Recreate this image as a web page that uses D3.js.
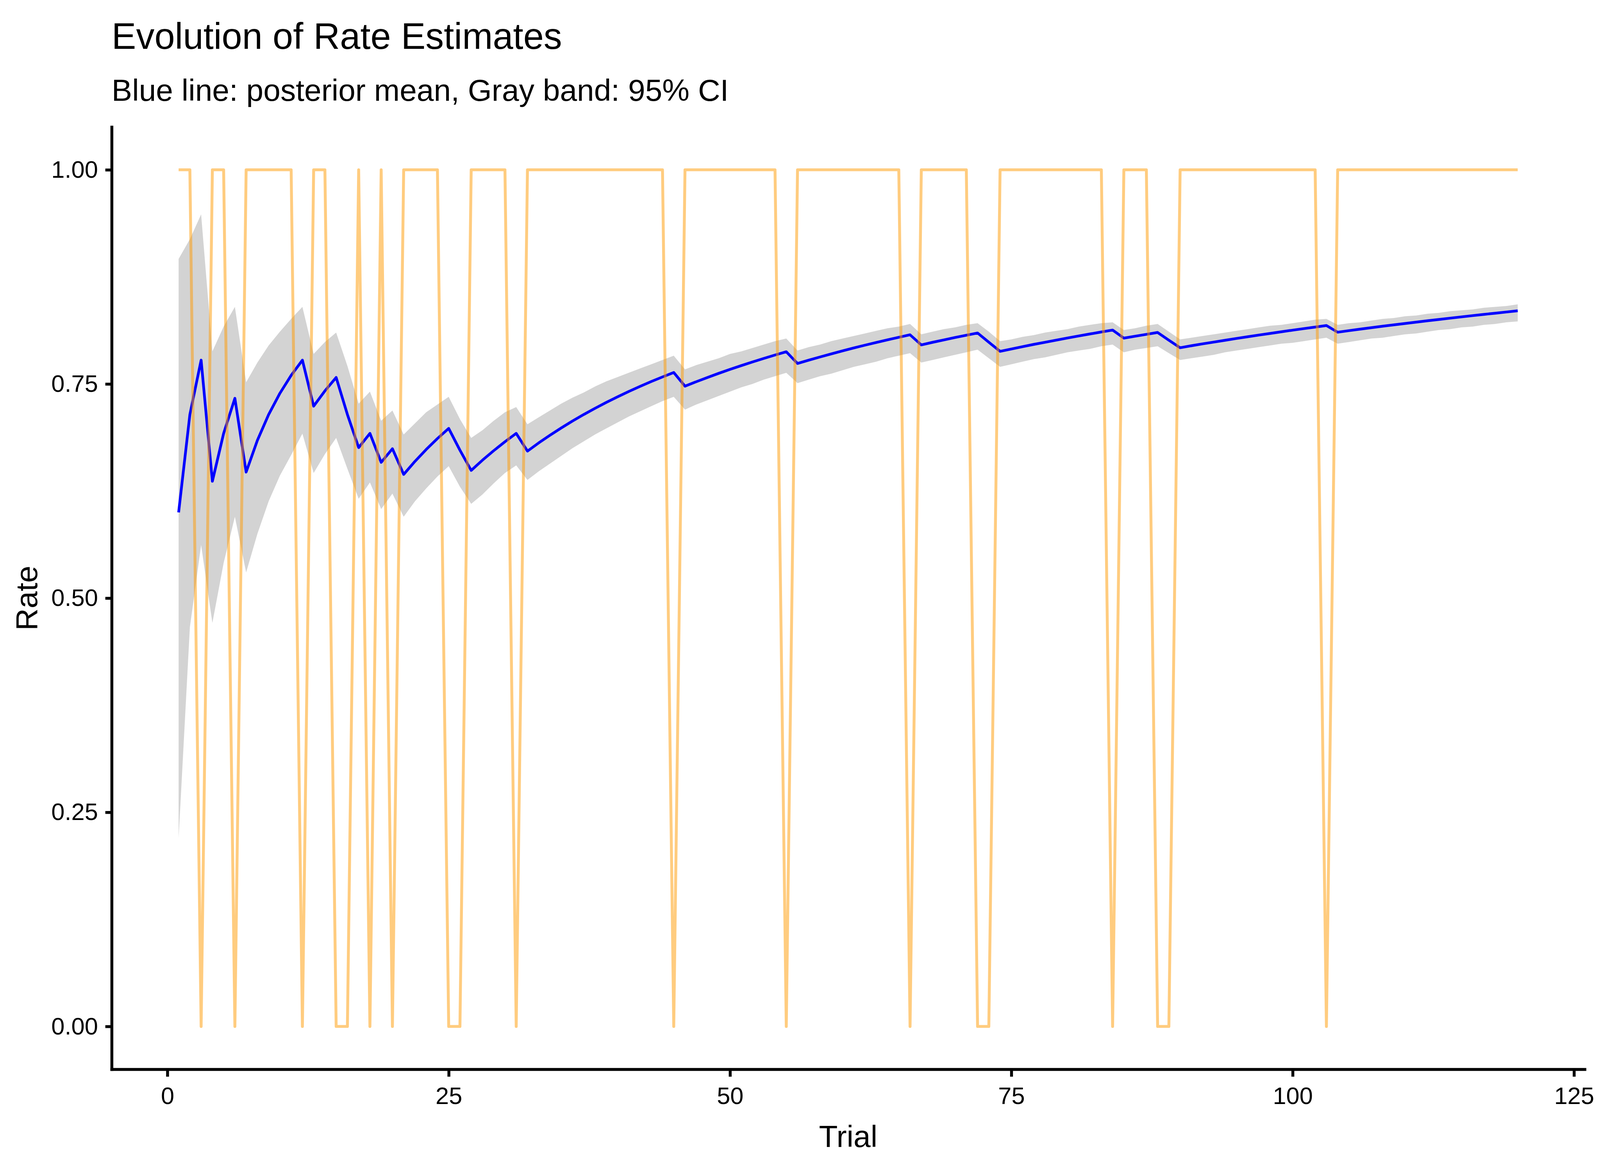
<!DOCTYPE html>
<html>
<head>
<meta charset="utf-8">
<script src="https://cdn.jsdelivr.net/npm/d3@7/dist/d3.min.js"></script>
<style>
  html, body { margin: 0; padding: 0; background: #ffffff; overflow: hidden; }
  svg { display: block; }
  text { font-family: "Liberation Sans", Arial, Helvetica, sans-serif; fill: #000; }
</style>
</head>
<body>
<script>
// ---------------- data ----------------
const titleText = "Evolution of Rate Estimates";
const subtitleText = "Blue line: posterior mean, Gray band: 95% CI";
const xLabel = "Trial";
const yLabel = "Rate";
const xTicks = [0, 25, 50, 75, 100, 125];
const yTicks = [0, 0.25, 0.5, 0.75, 1];

const trials = d3.range(1, 121);

const outcome = [
1,1,0,1,1,0,1,1,1,1,
1,0,1,1,0,0,1,0,1,0,
1,1,1,1,0,0,1,1,1,1,
0,1,1,1,1,1,1,1,1,1,
1,1,1,1,0,1,1,1,1,1,
1,1,1,1,0,1,1,1,1,1,
1,1,1,1,1,0,1,1,1,1,
1,0,0,1,1,1,1,1,1,1,
1,1,1,0,1,1,1,0,0,1,
1,1,1,1,1,1,1,1,1,1,
1,1,0,1,1,1,1,1,1,1,
1,1,1,1,1,1,1,1,1,1];

const postMean = [
0.6000,0.7143,0.7778,0.6364,0.6923,0.7333,0.6471,0.6842,0.7143,0.7391,
0.7600,0.7778,0.7241,0.7419,0.7576,0.7143,0.6757,0.6923,0.6585,0.6744,
0.6444,0.6596,0.6735,0.6863,0.6981,0.6727,0.6491,0.6610,0.6721,0.6825,
0.6923,0.6716,0.6812,0.6901,0.6986,0.7067,0.7143,0.7215,0.7284,0.7349,
0.7412,0.7471,0.7528,0.7582,0.7634,0.7474,0.7526,0.7576,0.7624,0.7670,
0.7714,0.7757,0.7798,0.7838,0.7876,0.7739,0.7778,0.7815,0.7851,0.7886,
0.7920,0.7953,0.7984,0.8015,0.8045,0.8074,0.7956,0.7986,0.8014,0.8042,
0.8069,0.8095,0.7987,0.7881,0.7908,0.7935,0.7962,0.7987,0.8012,0.8037,
0.8061,0.8084,0.8107,0.8129,0.8035,0.8057,0.8079,0.8101,0.8011,0.7923,
0.7946,0.7968,0.7989,0.8010,0.8031,0.8051,0.8071,0.8090,0.8109,0.8128,
0.8146,0.8164,0.8182,0.8104,0.8122,0.8140,0.8157,0.8174,0.8190,0.8206,
0.8222,0.8238,0.8253,0.8268,0.8283,0.8298,0.8312,0.8326,0.8340,0.8354];

const ciUpper = [
0.896,0.919,0.948,0.788,0.817,0.840,0.752,0.775,0.795,0.811,
0.826,0.840,0.785,0.799,0.810,0.771,0.727,0.741,0.707,0.719,
0.691,0.704,0.717,0.726,0.735,0.709,0.687,0.696,0.707,0.717,
0.723,0.703,0.711,0.719,0.727,0.734,0.740,0.747,0.753,0.758,
0.763,0.768,0.773,0.778,0.783,0.767,0.772,0.776,0.780,0.785,
0.788,0.792,0.796,0.800,0.803,0.789,0.793,0.796,0.800,0.803,
0.806,0.809,0.812,0.815,0.817,0.820,0.808,0.811,0.814,0.816,
0.819,0.821,0.811,0.800,0.802,0.805,0.807,0.810,0.812,0.814,
0.817,0.819,0.821,0.822,0.813,0.815,0.818,0.820,0.811,0.802,
0.804,0.806,0.808,0.810,0.812,0.814,0.816,0.818,0.819,0.821,
0.823,0.825,0.826,0.819,0.821,0.822,0.824,0.826,0.827,0.829,
0.830,0.832,0.833,0.835,0.836,0.837,0.839,0.840,0.841,0.843];

const ciLower = [
0.220,0.466,0.562,0.471,0.541,0.595,0.530,0.575,0.613,0.643,
0.667,0.692,0.646,0.668,0.687,0.651,0.616,0.635,0.604,0.622,
0.595,0.613,0.628,0.642,0.654,0.630,0.610,0.621,0.634,0.646,
0.655,0.638,0.648,0.657,0.666,0.675,0.683,0.691,0.698,0.705,
0.712,0.718,0.724,0.730,0.735,0.720,0.726,0.731,0.736,0.741,
0.746,0.750,0.755,0.759,0.763,0.751,0.755,0.759,0.762,0.766,
0.770,0.773,0.776,0.780,0.783,0.786,0.775,0.778,0.781,0.784,
0.787,0.790,0.780,0.770,0.773,0.776,0.779,0.781,0.784,0.787,
0.789,0.791,0.794,0.796,0.787,0.790,0.792,0.794,0.786,0.778,
0.780,0.782,0.784,0.787,0.789,0.791,0.793,0.795,0.797,0.798,
0.800,0.802,0.804,0.797,0.799,0.801,0.803,0.804,0.806,0.808,
0.809,0.811,0.813,0.814,0.816,0.817,0.819,0.820,0.822,0.823];

// ---------------- layout (design space 4800 x 3000, mapped onto the viewport) ----------------
const DW = 4800, DH = 3000;
const VW = window.innerWidth || DW;
const VH = window.innerHeight || DH;
const sx = VW / DW, sy = VH / DH;
const sf = sx;                         // font scale (keeps text widths proportional)
const sl = Math.sqrt(sx * sy);         // stroke scale
const X = v => v * sx, Y = v => v * sy;

const panel = { left: 335, right: 4754, top: 325, bottom: 2737 };

const rows = trials.map((t, i) => ({
  t, outcome: outcome[i], mean: postMean[i], lo: ciLower[i], hi: ciUpper[i]
}));

// ggplot-style 5% expansion of the data range
const xMin = d3.min(trials), xMax = d3.max(trials);
const xPad = (xMax - xMin) * 0.05;
const x = d3.scaleLinear().domain([xMin - xPad, xMax + xPad]).range([X(panel.left), X(panel.right)]);
const y = d3.scaleLinear().domain([-0.05, 1.05]).range([Y(panel.bottom), Y(panel.top)]);

const svg = d3.select("body").append("svg")
  .attr("width", VW).attr("height", VH);

svg.append("rect").attr("width", VW).attr("height", VH).attr("fill", "#ffffff");

// band
svg.append("path")
  .datum(rows)
  .attr("fill", "#d3d3d3")
  .attr("stroke", "none")
  .attr("d", d3.area().x(d => x(d.t)).y0(d => y(d.lo)).y1(d => y(d.hi)));

// posterior mean
svg.append("path")
  .datum(rows)
  .attr("fill", "none")
  .attr("stroke", "#0000ff")
  .attr("stroke-width", 7.5 * sl)
  .attr("stroke-linejoin", "round")
  .attr("d", d3.line().x(d => x(d.t)).y(d => y(d.mean)));

// observed outcomes
svg.append("path")
  .datum(rows)
  .attr("fill", "none")
  .attr("stroke", "#ff9900")
  .attr("stroke-opacity", 0.5)
  .attr("stroke-width", 8 * sl)
  .attr("stroke-linejoin", "round")
  .attr("stroke-linecap", "butt")
  .attr("d", d3.line().x(d => x(d.t)).y(d => y(d.outcome)));

// axes
const gx = svg.append("g")
  .attr("transform", `translate(0,${Y(panel.bottom)})`)
  .call(d3.axisBottom(x).tickValues(xTicks).tickFormat(d3.format("d"))
    .tickSize(Y(19)).tickSizeOuter(0).tickPadding(Y(26)));
const gy = svg.append("g")
  .attr("transform", `translate(${X(panel.left)},0)`)
  .call(d3.axisLeft(y).tickValues(yTicks).tickFormat(d3.format(".2f"))
    .tickSize(X(19)).tickSizeOuter(0).tickPadding(X(22)));

[gx, gy].forEach(g => {
  g.select(".domain").attr("stroke", "#000").attr("stroke-width", 8 * sl).attr("stroke-linecap", "square");
  g.selectAll(".tick line").attr("stroke", "#000").attr("stroke-width", 8 * sl);
  g.selectAll(".tick text")
    .attr("fill", "#000")
    .style("font-family", '"Liberation Sans", Arial, Helvetica, sans-serif')
    .style("font-size", (72 * sf) + "px");
});

// axis titles
svg.append("text")
  .attr("x", X((panel.left + panel.right) / 2))
  .attr("y", Y(2936))
  .attr("text-anchor", "middle")
  .style("font-size", (92 * sf) + "px")
  .text(xLabel);

svg.append("text")
  .attr("transform", `translate(${X(111)},${Y((panel.top + panel.bottom) / 2)}) rotate(-90)`)
  .attr("text-anchor", "middle")
  .style("font-size", (92 * sf) + "px")
  .text(yLabel);

// title and subtitle
svg.append("text")
  .attr("x", X(panel.left))
  .attr("y", Y(125))
  .style("font-size", (110 * sf) + "px")
  .text(titleText);

svg.append("text")
  .attr("x", X(panel.left))
  .attr("y", Y(258))
  .style("font-size", (92 * sf) + "px")
  .text(subtitleText);
</script>
</body>
</html>
